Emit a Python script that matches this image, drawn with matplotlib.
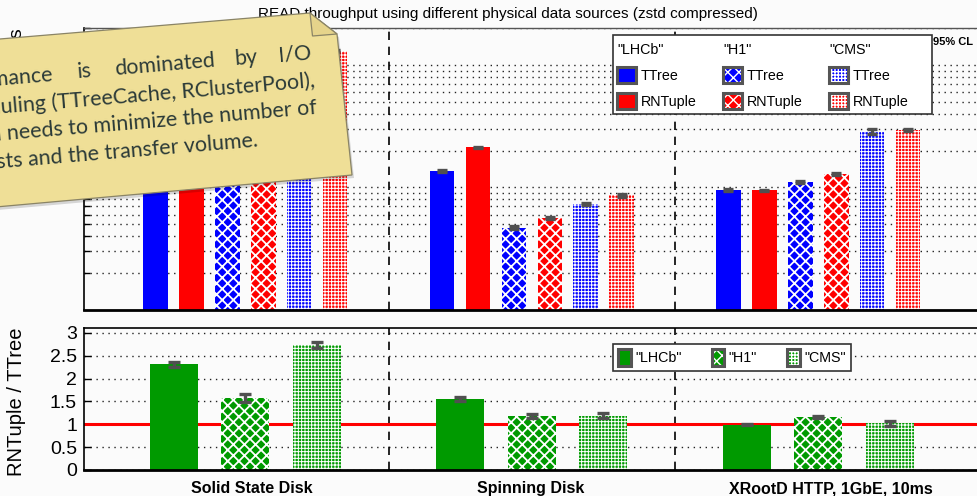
import numpy as np
import matplotlib.pyplot as plt
from matplotlib.patches import Rectangle, Polygon
from matplotlib.legend import Legend
from matplotlib.legend_handler import HandlerTuple
from matplotlib.ticker import NullFormatter, FixedLocator, FuncFormatter

plt.rcParams['font.family'] = ['Liberation Sans', 'DejaVu Sans']
plt.rcParams['hatch.linewidth'] = 1.0

# data sources and samples
sources = ['Solid State Disk', 'Spinning Disk', 'XRootD HTTP, 1GbE, 10ms']
samples = ['"LHCb"', '"H1"', '"CMS"']

# read throughput, events / s
lhcb_ttree = [400, 137, 95.8]
lhcb_rntuple = [924, 212, 94.5]
h1_ttree = [200, 47.0, 111]
h1_rntuple = [314, 56.1, 129]
cms_ttree = [478, 73.1, 285]
cms_rntuple = [1310, 86.0, 293]

# 95% CL half widths
lhcb_ttree_err = [8, 2.5, 2.0]
lhcb_rntuple_err = [15, 3.5, 1.5]
h1_ttree_err = [5, 1.2, 2.5]
h1_rntuple_err = [8, 1.2, 2.5]
cms_ttree_err = [12, 1.5, 14]
cms_rntuple_err = [20, 2.5, 5]

# RNTuple / TTree
ratio_lhcb = [2.31, 1.55, 0.99]
ratio_h1 = [1.57, 1.18, 1.16]
ratio_cms = [2.74, 1.19, 1.02]
ratio_lhcb_err = [0.06, 0.04, 0.01]
ratio_h1_err = [0.09, 0.04, 0.02]
ratio_cms_err = [0.07, 0.05, 0.05]

BG = '#fbfbfb'
BLUE, RED, GREEN = '#0000ff', '#ff0000', '#009a00'
ERR = '#505050'
DOTS = (0, (1, 3.3))

# fill pattern per sample: (hatch, hatch linewidth)
patterns = [(None, 1.0), ('xxx', 1.3), ('+++++', 0.7)]

W, H = 978, 496
fig = plt.figure(figsize=(W / 100, H / 100), dpi=100, facecolor=BG)


def px_axes(x0, y0, x1, y1):
    return fig.add_axes([x0 / W, 1 - y1 / H, (x1 - x0) / W, (y1 - y0) / H])


ax = px_axes(84, 28.3, 979.6, 309.7)
axr = px_axes(84, 328.3, 979.6, 470)


def draw_bars(axis, pos, vals, width, color, pattern, zorder=2):
    hatch, hlw = pattern
    with plt.rc_context({'hatch.linewidth': hlw}):
        bars = axis.bar(pos, vals, width, color=color, hatch=hatch,
                        edgecolor='white' if hatch else color, linewidth=0,
                        zorder=zorder)
    for b in bars:
        if hasattr(b, 'set_hatch_linewidth'):
            b.set_hatch_linewidth(hlw)
    return bars


def legend_handle(color, pattern):
    hatch, hlw = pattern
    fill = Rectangle((0, 0), 1, 1, facecolor=color, hatch=hatch,
                     edgecolor='white' if hatch else color, linewidth=0)
    if hasattr(fill, 'set_hatch_linewidth'):
        fill.set_hatch_linewidth(hlw)
    border = Rectangle((0, 0), 1, 1, facecolor='none', edgecolor='#555555',
                       linewidth=2.2)
    return (fill, border)


x = np.arange(len(sources))

# ---- throughput panel ----
ax.set_facecolor(BG)
ax.set_yscale('log')
series = [
    (lhcb_ttree, lhcb_ttree_err, BLUE, patterns[0]),
    (lhcb_rntuple, lhcb_rntuple_err, RED, patterns[0]),
    (h1_ttree, h1_ttree_err, BLUE, patterns[1]),
    (h1_rntuple, h1_rntuple_err, RED, patterns[1]),
    (cms_ttree, cms_ttree_err, BLUE, patterns[2]),
    (cms_rntuple, cms_rntuple_err, RED, patterns[2]),
]
pitch, width = 0.1255, 0.0855
for i, (vals, errs, color, pattern) in enumerate(series):
    pos = x + (i - 2.5) * pitch
    draw_bars(ax, pos, vals, width, color, pattern)
    ax.errorbar(pos, vals, yerr=errs, fmt='none', ecolor=ERR, elinewidth=2.4,
                capsize=3.5, capthick=2.4, zorder=3)

ax.set_ylim(10, 2000)
ax.set_xlim(-0.563, 2.563)
ax.set_xticks([])
ax.yaxis.set_major_locator(FixedLocator([100, 1000]))
ax.yaxis.set_minor_formatter(NullFormatter())
ax.tick_params(axis='y', which='both', direction='in', length=4, width=1,
               labelsize=14)
ax.yaxis.grid(True, which='both', linestyle=DOTS, linewidth=1.0, color='#222222')
ax.set_axisbelow(True)
for xs in (0.5, 1.5):
    ax.axvline(xs, color='black', lw=1.2, ls=(0, (5, 4)), zorder=1.5)
ax.spines['bottom'].set_linewidth(2)
ax.spines['left'].set_linewidth(1.2)
ax.spines['top'].set_linewidth(1.0)
ax.spines['top'].set_color('#555555')

# legend: one block per sample inside a shared frame
ax.add_patch(Rectangle(((613 - 84) / 895.6, (309.7 - 114) / 281.4),
                       (932 - 613) / 895.6, (114 - 35) / 281.4,
                       transform=ax.transAxes, facecolor='white',
                       edgecolor='#333333', lw=1.2, zorder=4.5))
for j, (sample, col_px) in enumerate(zip(samples, [617, 723, 829])):
    leg = Legend(ax, [legend_handle(BLUE, patterns[j]),
                      legend_handle(RED, patterns[j])],
                 ['TTree', 'RNTuple'], title=sample, loc='upper left',
                 bbox_to_anchor=((col_px - 84) / 895.6, (309.7 - 42.5) / 281.4),
                 alignment='left', frameon=False, fontsize=10.3,
                 title_fontsize=10.3, handlelength=1.35, handleheight=1.35,
                 handletextpad=0.3, labelspacing=0.72, borderpad=0,
                 borderaxespad=0, handler_map={tuple: HandlerTuple(ndivide=1)})
    leg.set_zorder(6)
    ax.add_artist(leg)

fig.text(933 / W, 1 - 42 / H, '95% CL', ha='left', va='center', fontsize=8,
         fontweight='bold')

# ---- ratio panel ----
axr.set_facecolor(BG)
ratio_series = [(ratio_lhcb, ratio_lhcb_err), (ratio_h1, ratio_h1_err),
                (ratio_cms, ratio_cms_err)]
rpitch, rwidth = 0.25, 0.1675
for j, (vals, errs) in enumerate(ratio_series):
    pos = x + (j - 1) * rpitch
    draw_bars(axr, pos, vals, rwidth, GREEN, patterns[j])
    axr.errorbar(pos, vals, yerr=errs, fmt='none', ecolor=ERR, elinewidth=2.4,
                 capsize=4, capthick=2.4, zorder=3)

axr.axhline(1.0, color=RED, lw=2.2, zorder=1.8)
axr.set_xlim(-0.563, 2.563)
axr.set_ylim(0, 3.1)
axr.set_yticks(np.arange(0, 3.01, 0.5))
axr.yaxis.set_major_formatter(FuncFormatter(lambda v, p: f'{v:g}'))
axr.tick_params(axis='y', direction='in', length=5, width=1, labelsize=14, pad=5)
# category names sit slightly right of the group centres
axr.set_xticks(x + np.array([0.022, -0.005, 0.043]), sources, fontsize=11.5,
               fontweight='bold')
axr.tick_params(axis='x', length=0, pad=8)
axr.yaxis.grid(True, linestyle=DOTS, linewidth=1.0, color='#222222')
axr.set_axisbelow(True)
for xs in (0.5, 1.5):
    axr.axvline(xs, color='black', lw=1.2, ls=(0, (5, 4)), zorder=1.5)
axr.spines['bottom'].set_linewidth(2)
axr.spines['left'].set_linewidth(1.2)
axr.spines['top'].set_linewidth(1.2)

rleg = axr.legend(handles=[legend_handle(GREEN, p) for p in patterns],
                  labels=samples, ncol=3, loc='upper left',
                  bbox_to_anchor=((613 - 84) / 895.6, (470 - 344) / 141.7),
                  frameon=True, fancybox=False, edgecolor='#333333',
                  facecolor='white', framealpha=1, fontsize=10.3,
                  handlelength=0.9, handleheight=1.5, handletextpad=0.3,
                  columnspacing=2.1, borderpad=0.35, borderaxespad=0,
                  handler_map={tuple: HandlerTuple(ndivide=1)})
rleg.get_frame().set_linewidth(1.2)
rleg.set_zorder(6)

fig.text(16.7 / W, 1 - 402 / H, 'RNTuple / TTree', rotation=90, ha='center',
         va='center', fontsize=14.5)
fig.text(17 / W, 1 - 28 / H, 'Events / s', rotation=90, ha='center', va='top',
         fontsize=14)
fig.text(258 / W, 1 - 14 / H, 'READ throughput using different physical data '
         'sources (zstd compressed)', ha='left', va='center', fontsize=11)

# ---- sticky note on top ----
ov = fig.add_axes([0, 0, 1, 1], zorder=10)
ov.set_xlim(0, W)
ov.set_ylim(H, 0)
ov.axis('off')

note_xy = np.array([(-60, 44), (310, 13), (337, 34), (352, 175), (-60, 212)])
flap_xy = np.array([(310, 13), (312.5, 36), (337, 34)])
ov.add_patch(Polygon(note_xy + [2, 3], closed=True, facecolor='black',
                     alpha=0.15, lw=0))
ov.add_patch(Polygon(note_xy, closed=True, facecolor='#efdf97',
                     edgecolor='#8a8466', lw=0.9))
ov.add_patch(Polygon(flap_xy, closed=True, facecolor='#e6d48b',
                     edgecolor='#8a8466', lw=0.9))

slope = 0.084
angle = np.degrees(np.arctan(slope))
note_font = ['Lato', 'DejaVu Sans']
note_color = '#2b3a38'

probe = fig.text(0, 0, 'needs to minimize the number of', fontsize=20,
                 family=note_font)
probe_w = probe.get_window_extent(fig.canvas.get_renderer()).width
probe.remove()
note_fs = 20 * 310 / probe_w


def note_text(s, xpos, y0, ha):
    ov.text(xpos, y0 - slope * xpos, s, rotation=angle, rotation_mode='anchor',
            ha=ha, va='baseline', fontsize=note_fs, family=note_font,
            color=note_color)


for word, xpos, ha in [('Performance', 53, 'right'), ('is', 78, 'left'),
                       ('dominated', 115, 'left'), ('by', 235, 'left'),
                       ('I/O', 312, 'right')]:
    note_text(word, xpos, 85, ha)
note_text('scheduling (TTreeCache, RClusterPool),', 315, 113.7, 'right')
note_text('which needs to minimize the number of', 317, 140.6, 'right')
note_text('requests and the transfer volume.', 258, 168, 'right')

fig.savefig('out.png', dpi=100, facecolor=fig.get_facecolor())
